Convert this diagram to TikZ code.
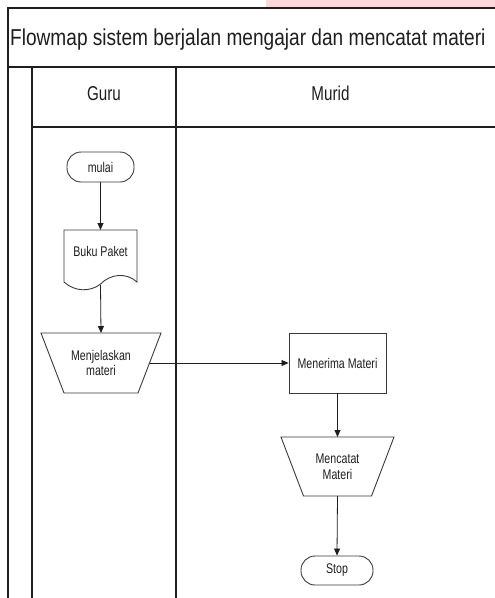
\documentclass[tikz,border=0pt]{standalone}
\usepackage{fontspec}
\setmainfont{Liberation Sans}
\newfontfamily\titlefont[FakeStretch=0.83]{Liberation Sans}
\newfontfamily\lanefont[FakeStretch=0.76]{Liberation Sans}
\usetikzlibrary{arrows.meta,calc}
\definecolor{ink}{HTML}{1E1E1E}
\definecolor{shapeink}{HTML}{3A3A3A}
\definecolor{tabpink}{RGB}{252,216,221}
\begin{document}
\begin{tikzpicture}[x=1pt,y=-1pt,
  frame/.style={draw=ink,line width=1.3pt},
  shapeline/.style={draw=shapeink,line width=0.9pt},
  flow/.style={draw=ink,line width=0.8pt,-{Triangle[length=7pt,width=6pt]}},
  txt/.style={font=\lanefont\fontsize{14}{15}\selectfont,text=ink,align=center,inner sep=0pt},
  headtxt/.style={font=\lanefont\fontsize{20}{20}\selectfont,text=ink,anchor=base,inner sep=0pt},
  terminal/.style={shapeline,txt,rounded corners=14pt,minimum width=67pt,minimum height=30pt},
  process/.style={shapeline,txt,minimum width=97pt,minimum height=60pt},
  holder/.style={inner sep=0pt,outer sep=0pt}
]
\path[use as bounding box] (0,0) rectangle (495,598);

% pink tab at the top right
\fill[tabpink] (266,0) rectangle (495,6.5);

% swimlane frame
\draw[frame] (495,8) -- (8,8) -- (8,598);
\draw[frame] (8,67) -- (495,67);
\draw[frame] (32,127) -- (495,127);
\draw[frame] (32,67) -- (32,598);
\draw[frame] (176,67) -- (176,598);

% title and lane headings
\node[font=\titlefont\fontsize{23}{23}\selectfont,text=ink,anchor=base west,inner sep=0pt]
  (title) at (10,45) {Flowmap sistem berjalan mengajar dan mencatat materi};
\node[headtxt] (guru) at (104,100) {Guru};
\node[headtxt] (murid) at (330.5,100) {Murid};

% Guru lane
\node[terminal] (mulai) at (100.5,167) {mulai};

\node[holder,minimum width=73pt,minimum height=52pt] (buku) at (100.5,256) {};
\draw[shapeline] (buku.south west) -- (buku.north west) -- (buku.north east) -- (buku.south east)
  .. controls ($(buku.south east)+(-11,-10)$) and ($(buku.south)+(10,-8)$) .. ($(buku.south)+(0,2)$)
  .. controls ($(buku.south)+(-10,10)$) and ($(buku.south west)+(11,10)$) .. (buku.south west);
\node[txt] (buku-text) at ($(buku.center)+(0,-5)$) {Buku Paket};

\node[holder,minimum width=120pt,minimum height=60pt] (menj) at (101,363) {};
\draw[shapeline] (menj.north west) -- (menj.north east) -- ($(menj.south east)+(-23,0)$)
  -- ($(menj.south west)+(23,0)$) -- cycle;
\node[txt] (menj-text) at (menj.center) {Menjelaskan\\materi};

% Murid lane
\node[process] (terima) at (337.5,363) {Menerima Materi};

\node[holder,minimum width=113pt,minimum height=59pt] (catat) at (337.5,466.5) {};
\draw[shapeline] (catat.north west) -- (catat.north east) -- ($(catat.south east)+(-22.5,0)$)
  -- ($(catat.south west)+(22.5,0)$) -- cycle;
\node[txt,font=\lanefont\fontsize{14}{16}\selectfont] (catat-text) at (catat.center) {Mencatat\\Materi};

\node[terminal,minimum width=72pt,minimum height=29pt] (stop) at (337,570.5) {Stop};

% connectors
\draw[flow] (mulai.south) -- (buku.north);
\draw[flow] ($(buku.south)+(0,3)$) -- (menj.north);
\draw[flow] ($(menj.east)+(-11,0)$) -- (terima.west);
\draw[flow] (terima.south) -- (catat.north);
\draw[flow] (catat.south) -- (stop.north);
\end{tikzpicture}
\end{document}
